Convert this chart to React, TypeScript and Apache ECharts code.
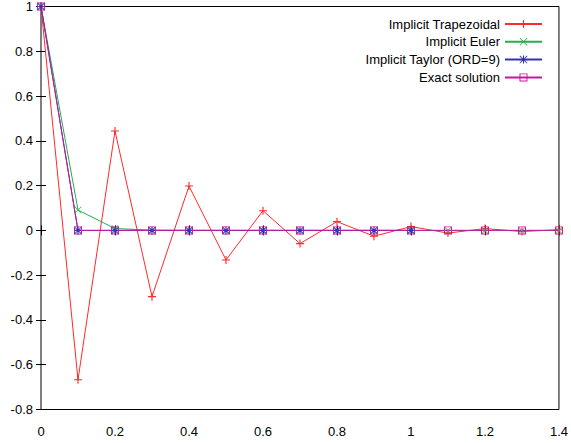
import React, { useEffect, useRef } from "react";
import * as echarts from "echarts";

const xValues = [0, 0.1, 0.2, 0.3, 0.4, 0.5, 0.6, 0.7, 0.8, 0.9, 1.0, 1.1, 1.2, 1.3, 1.4];
const trapezoidal = [1, -0.667, 0.444, -0.296, 0.198, -0.132, 0.088, -0.059, 0.039, -0.026, 0.017, -0.012, 0.008, -0.005, 0.003];
const implicitEuler = [1, 0.0909, 0.0083, 0.0008, 0.0001, 0, 0, 0, 0, 0, 0, 0, 0, 0, 0];
const implicitTaylor = [1, 0.00005, 0, 0, 0, 0, 0, 0, 0, 0, 0];
const exactSolution = [1, 0.00005, 0, 0, 0, 0, 0, 0, 0, 0, 0, 0, 0, 0, 0];
const seriesNames = ["Implicit Trapezoidal", "Implicit Euler", "Implicit Taylor (ORD=9)", "Exact solution"];
const yTicks = { min: -0.8, max: 1, interval: 0.2 };
const xTicks = { min: 0, max: 1.4, interval: 0.2 };

const PLUS = "path://M4.3,0H5.7V4.3H10V5.7H5.7V10H4.3V5.7H0V4.3H4.3Z";
const CROSS = "path://M0.7,0L10,9.3L9.3,10L0,0.7Z M9.3,0L10,0.7L0.7,10L0,9.3Z";
const STAR = "path://M4.3,0H5.7V4.3H10V5.7H5.7V10H4.3V5.7H0V4.3H4.3Z M0.7,0L10,9.3L9.3,10L0,0.7Z M9.3,0L10,0.7L0.7,10L0,9.3Z";
const SQUARE = "path://M0,0H10V10H0Z M1.2,1.2V8.8H8.8V1.2Z";

const FONT = "Liberation Sans, Arial, sans-serif";

function pairs(ys: number[]) {
  return ys.map((y, i) => [xValues[i], y]);
}

export default function App() {
  const ref = useRef<HTMLDivElement>(null);
  useEffect(() => {
    if (!ref.current) return;
    const chart = echarts.init(ref.current, undefined, { renderer: "svg" });
    const colors = ["#ff2a2a", "#22b048", "#3434b0", "#c4189e"];
    const symbols = [PLUS, CROSS, STAR, SQUARE];
    const sizes = [8, 7, 8, 8];
    const datasets = [trapezoidal, implicitEuler, implicitTaylor, exactSolution];
    const axisLabel = { color: "#000", fontSize: 13, fontFamily: FONT };
    chart.setOption({
      animation: false,
      backgroundColor: "#fff",
      grid: {
        left: 41,
        right: 12,
        top: 6.5,
        bottom: 33.5,
        show: true,
        borderColor: "#000",
        borderWidth: 1,
      },
      legend: {
        orient: "vertical",
        right: 28,
        top: 17.5,
        padding: 0,
        align: "right",
        itemWidth: 37,
        itemHeight: 10,
        itemGap: 4.8,
        textStyle: { color: "#000", fontSize: 13, fontFamily: FONT },
        data: seriesNames,
      },
      xAxis: [
        {
          type: "value",
          ...xTicks,
          axisLine: { show: false },
          axisTick: { inside: true, length: 5, lineStyle: { color: "#000" } },
          splitLine: { show: false },
          axisLabel: { ...axisLabel, margin: 15 },
        },
        {
          type: "value",
          position: "top",
          ...xTicks,
          axisLine: { show: false },
          axisTick: { inside: true, length: 5, lineStyle: { color: "#000" } },
          splitLine: { show: false },
          axisLabel: { show: false },
        },
      ],
      yAxis: [
        {
          type: "value",
          ...yTicks,
          axisLine: { show: false },
          axisTick: { inside: true, length: 5, lineStyle: { color: "#000" } },
          splitLine: { show: false },
          axisLabel: { ...axisLabel, margin: 8 },
        },
        {
          type: "value",
          position: "right",
          ...yTicks,
          axisLine: { show: false },
          axisTick: { inside: true, length: 5, lineStyle: { color: "#000" } },
          splitLine: { show: false },
          axisLabel: { show: false },
        },
      ],
      series: seriesNames.map((name, i) => ({
        name,
        type: "line",
        data: pairs(datasets[i]),
        symbol: symbols[i],
        symbolSize: sizes[i],
        showAllSymbol: true,
        color: colors[i],
        lineStyle: { width: 1, color: colors[i] },
        itemStyle: { color: colors[i] },
        emphasis: { disabled: true },
      })),
    });
    return () => chart.dispose();
  }, []);
  return (
    <div
      ref={ref}
      style={{ position: "fixed", left: 0, top: 0, width: 571, height: 443 }}
    />
  );
}
